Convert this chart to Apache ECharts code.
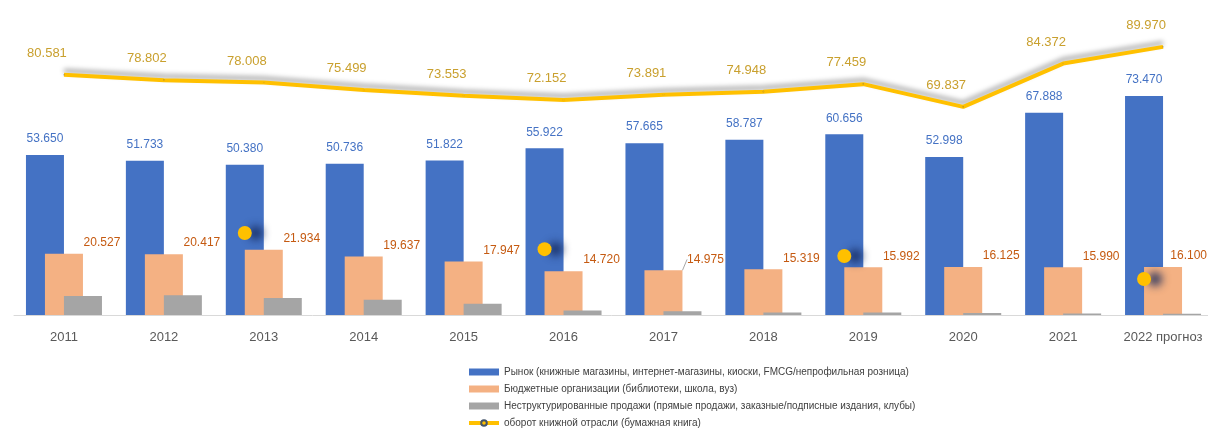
<!DOCTYPE html>
<html>
<head>
<meta charset="utf-8">
<script src="https://cdn.jsdelivr.net/npm/echarts@6/dist/echarts.min.js"></script>
<style>
  html, body { margin: 0; padding: 0; background: #fff; }
  #chart { width: 1208px; height: 437px; }
</style>
</head>
<body>
<div id="chart"></div>
<script>
// годы
const years = ['2011', '2012', '2013', '2014', '2015', '2016', '2017', '2018', '2019', '2020', '2021', '2022 прогноз']
// рынок, млрд руб.
const market = [53.650, 51.733, 50.380, 50.736, 51.822, 55.922, 57.665, 58.787, 60.656, 52.998, 67.888, 73.470]
// бюджетные организации
const budget = [20.527, 20.417, 21.934, 19.637, 17.947, 14.720, 14.975, 15.319, 15.992, 16.125, 15.990, 16.100]
// неструктурированные продажи (подписей нет, считано по высоте)
const other = [6.40, 6.65, 5.69, 5.13, 3.78, 1.51, 1.25, 0.84, 0.81, 0.71, 0.49, 0.40]
// оборот книжной отрасли
const total = [80.581, 78.802, 78.008, 75.499, 73.553, 72.152, 73.891, 74.948, 77.459, 69.837, 84.372, 89.970]
// жёлтые маркеры на картинке
const dots = [['2013', 27.5], ['2016', 22.1], ['2019', 19.8], ['2022 прогноз', 12.1]]

const names = [
  'Рынок (книжные магазины, интернет-магазины, киоски, FMCG/непрофильная розница)',
  'Бюджетные организации (библиотеки, школа, вуз)',
  'Неструктурированные продажи (прямые продажи, заказные/подписные издания, клубы)',
  'оборот книжной отрасли (бумажная книга)'
]

const fmt = p => p.value.toFixed(3)
const font = 'Liberation Sans, Arial, sans-serif'

// у 2017 года подпись с выноской
const budgetData = budget.map((v, i) => i === 6 ? { value: v, labelLine: { show: true } } : v)

// подпись справа от столбца, но не за правым краем
const shiftRight = p => {
  const dx = p.dataIndex === 6 ? 42 : 38
  const over = p.labelRect.x + dx + p.labelRect.width - 1207
  return { dx: over > 0 ? dx - over : dx }
}

const chart = echarts.init(document.getElementById('chart'))
const option = {
  animation: false,
  textStyle: { fontFamily: font },
  grid: { left: 14, width: 1199, top: 17, bottom: 122, outerBoundsMode: 'none', containLabel: false },
  legend: {
    data: [
      { name: names[0], icon: 'rect' },
      { name: names[1], icon: 'rect' },
      { name: names[2], icon: 'rect' },
      { name: names[3], lineStyle: { width: 4, shadowBlur: 0, shadowOffsetY: 0 } }
    ],
    orient: 'vertical',
    left: 462,
    top: 362,
    itemWidth: 30,
    itemHeight: 7,
    itemGap: 7,
    textStyle: { fontSize: 10, color: '#404040', fontFamily: 'Liberation Sans Narrow, Liberation Sans, sans-serif' }
  },
  xAxis: {
    type: 'category',
    data: years,
    axisTick: { show: false },
    axisLine: { lineStyle: { color: '#d9d9d9', width: 1 } },
    axisLabel: { color: '#595959', fontSize: 13, margin: 16, interval: 0 }
  },
  yAxis: {
    type: 'value',
    min: 0,
    max: 100,
    show: false,
    splitLine: { show: false }
  },
  series: [{
    name: names[0],
    type: 'bar',
    data: market,
    barWidth: 38,
    barGap: '-50%',
    itemStyle: { color: '#4472C4' },
    label: { show: true, position: 'top', distance: 10, color: '#4472C4', fontSize: 12, formatter: fmt }
  }, {
    name: names[1],
    type: 'bar',
    data: budgetData,
    barWidth: 38,
    barGap: '-50%',
    itemStyle: { color: '#F4B183' },
    label: { show: true, position: 'top', distance: 5, color: '#C55A11', fontSize: 12, formatter: fmt },
    labelLine: { show: false, lineStyle: { color: '#A6A6A6', width: 1 } },
    labelLayout: shiftRight
  }, {
    name: names[2],
    type: 'bar',
    data: other,
    barWidth: 38,
    barGap: '-50%',
    itemStyle: { color: '#A5A5A5' }
  }, {
    name: names[3],
    type: 'line',
    data: total,
    symbol: 'circle',
    symbolSize: 0.1,
    showSymbol: true,
    z: 5,
    lineStyle: {
      color: '#FFC000',
      width: 4,
      shadowColor: 'rgba(0,0,0,0.35)',
      shadowBlur: 5,
      shadowOffsetY: -4
    },
    itemStyle: { color: '#FFC000', borderColor: '#44546A', borderWidth: 1.5 },
    label: { show: true, position: 'top', distance: 6, offset: [-17, -8], color: '#C9A02E', fontSize: 13, formatter: fmt }
  }, {
    type: 'scatter',
    data: dots,
    symbolSize: 14,
    symbolOffset: [-19, 0],
    z: 6,
    itemStyle: {
      color: '#FFC000',
      opacity: 1,
      shadowColor: 'rgba(20,40,90,0.85)',
      shadowBlur: 8,
      shadowOffsetX: 11
    }
  }]
}
chart.setOption(option)
window.addEventListener('resize', function () {
  chart.resize()
})
</script>
</body>
</html>
